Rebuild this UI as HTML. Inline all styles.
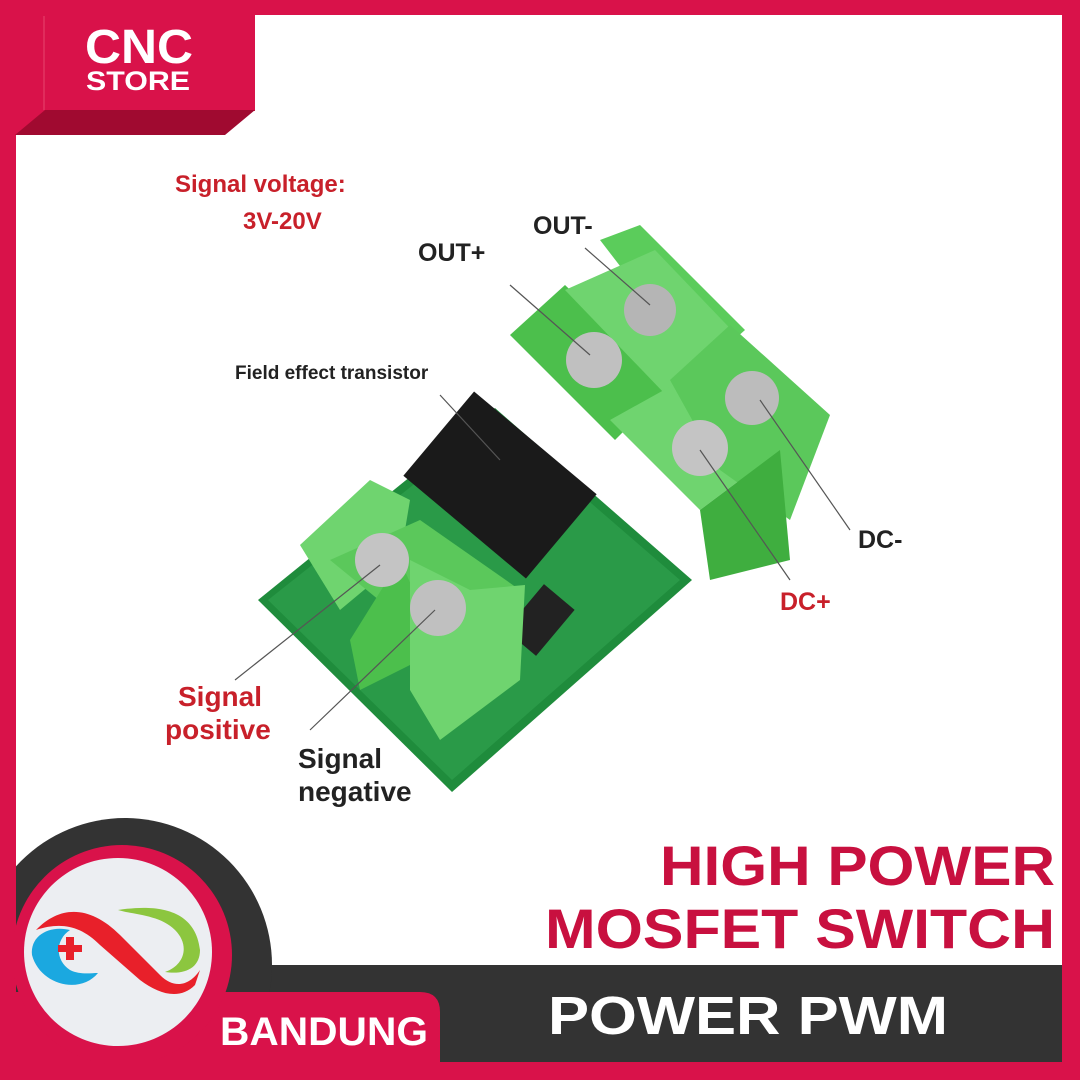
<!DOCTYPE html>
<html><head><meta charset="utf-8"><style>
body{margin:0;width:1080px;height:1080px;overflow:hidden;background:#fff;font-family:"Liberation Sans",sans-serif}
</style></head><body>
<svg width="1080" height="1080" viewBox="0 0 1080 1080" xmlns="http://www.w3.org/2000/svg" font-family="Liberation Sans, sans-serif">
<rect width="1080" height="1080" fill="#d9124a"/>
<rect x="16" y="15" width="1046" height="1047" fill="#fff"/>
<!-- top-left logo -->
<rect x="15" y="15" width="240" height="96" fill="#d9124a"/>
<rect x="15" y="15" width="30" height="120" fill="#d9124a"/>
<polygon points="15,135 45,110 255,110 225,135" fill="#a00a30"/>
<line x1="44" y1="16" x2="44" y2="110" stroke="#e8466f" stroke-width="1"/>
<text x="85" y="63" fill="#fff" font-size="48" font-weight="bold" textLength="108" lengthAdjust="spacingAndGlyphs">CNC</text>
<text x="86" y="90" fill="#fff" font-size="27" font-weight="bold" textLength="104" lengthAdjust="spacingAndGlyphs">STORE</text>
<!-- board -->
<polygon points="258,600 495,408 692,580 452,792" fill="#1f8c3c"/>
<polygon points="268,600 495,420 680,580 452,780" fill="#2a9a48"/>
<rect x="420" y="430" width="160" height="110" fill="#1a1a1a" transform="rotate(40 500 485)"/>
<rect x="520" y="590" width="40" height="60" fill="#222" transform="rotate(40 540 620)"/>
<!-- right terminals -->
<polygon points="510,335 565,285 670,385 615,440" fill="#4cbf4c"/>
<polygon points="600,240 640,225 745,330 700,370" fill="#5bcc5b"/>
<polygon points="565,290 655,250 770,370 690,420" fill="#6fd46f"/>
<polygon points="610,420 700,370 780,450 700,510" fill="#6fd46f"/>
<polygon points="670,380 730,325 830,415 790,520 720,470" fill="#5bc85b"/>
<polygon points="700,510 780,450 790,560 710,580" fill="#3fae3f"/>
<circle cx="650" cy="310" r="26" fill="#b5b5b5"/>
<circle cx="594" cy="360" r="28" fill="#c0c0c0"/>
<circle cx="752" cy="398" r="27" fill="#bcbcbc"/>
<circle cx="700" cy="448" r="28" fill="#c4c4c4"/>
<!-- left terminal -->
<polygon points="300,545 370,480 410,500 400,560 340,610" fill="#6fd46f"/>
<polygon points="330,560 420,520 520,590 440,650" fill="#5bc85b"/>
<polygon points="350,640 400,560 440,650 360,690" fill="#4cbf4c"/>
<polygon points="410,560 470,590 525,585 520,680 440,740 410,690" fill="#6fd46f"/>
<circle cx="382" cy="560" r="27" fill="#c4c4c4"/>
<circle cx="438" cy="608" r="28" fill="#c0c0c0"/>
<!-- leader lines -->
<g stroke="#555" stroke-width="1.2" fill="none">
<line x1="585" y1="248" x2="650" y2="305"/>
<line x1="510" y1="285" x2="590" y2="355"/>
<line x1="440" y1="395" x2="500" y2="460"/>
<line x1="850" y1="530" x2="760" y2="400"/>
<line x1="790" y1="580" x2="700" y2="450"/>
<line x1="235" y1="680" x2="380" y2="565"/>
<line x1="310" y1="730" x2="435" y2="610"/>
</g>
<!-- labels -->
<g font-weight="bold">
<text x="175" y="192" font-size="24" fill="#c8202a">Signal voltage:</text>
<text x="243" y="229" font-size="24" fill="#c8202a">3V-20V</text>
<text x="533" y="234" font-size="25" fill="#222">OUT-</text>
<text x="418" y="261" font-size="25" fill="#222">OUT+</text>
<text x="235" y="379" font-size="19" fill="#222">Field effect transistor</text>
<text x="858" y="548" font-size="25" fill="#222">DC-</text>
<text x="780" y="610" font-size="25" fill="#c8202a">DC+</text>
<text x="178" y="706" font-size="28" fill="#c8202a">Signal</text>
<text x="165" y="739" font-size="28" fill="#c8202a">positive</text>
<text x="298" y="768" font-size="28" fill="#222">Signal</text>
<text x="298" y="801" font-size="28" fill="#222">negative</text>
<text x="660" y="885" font-size="56" fill="#c8103f" textLength="395" lengthAdjust="spacingAndGlyphs">HIGH POWER</text>
<text x="545" y="948" font-size="56" fill="#c8103f" textLength="510" lengthAdjust="spacingAndGlyphs">MOSFET SWITCH</text>
</g>
<!-- bottom -->
<rect x="200" y="965" width="862" height="97" fill="#333"/>
<circle cx="125" cy="965" r="147" fill="#333"/>
<path d="M0,992 H420 Q440,992 440,1012 V1080 H0 Z" fill="#d9124a"/>
<rect x="0" y="1062" width="1080" height="18" fill="#d9124a"/>
<rect x="0" y="800" width="16" height="280" fill="#d9124a"/>
<circle cx="122" cy="955" r="110" fill="#d9124a"/>
<circle cx="118" cy="952" r="94" fill="#eceef2"/>
<path d="M36,930 C60,905 90,905 120,935 L160,975 C175,990 190,985 200,970 L195,985 C180,1000 160,995 140,980 L100,945 C80,925 60,922 36,930Z" fill="#e8202a"/>
<path d="M98,973 C80,995 40,985 32,955 C30,935 50,925 70,930 C55,940 55,960 70,970 C80,975 90,973 98,973Z" fill="#1ba8e0"/>
<path d="M118,910 C150,905 195,905 200,950 C200,968 185,975 165,972 C185,965 190,945 175,930 C160,915 135,915 118,910Z" fill="#8cc63f"/>
<rect x="58" y="945" width="24" height="7" fill="#e8202a"/><rect x="66" y="937" width="8" height="23" fill="#e8202a"/>
<text x="220" y="1045" font-size="40" font-weight="bold" fill="#fff" textLength="208" lengthAdjust="spacingAndGlyphs">BANDUNG</text>
<text x="548" y="1034" font-size="54" font-weight="bold" fill="#fff" textLength="400" lengthAdjust="spacingAndGlyphs">POWER PWM</text>
</svg>
</body></html>
